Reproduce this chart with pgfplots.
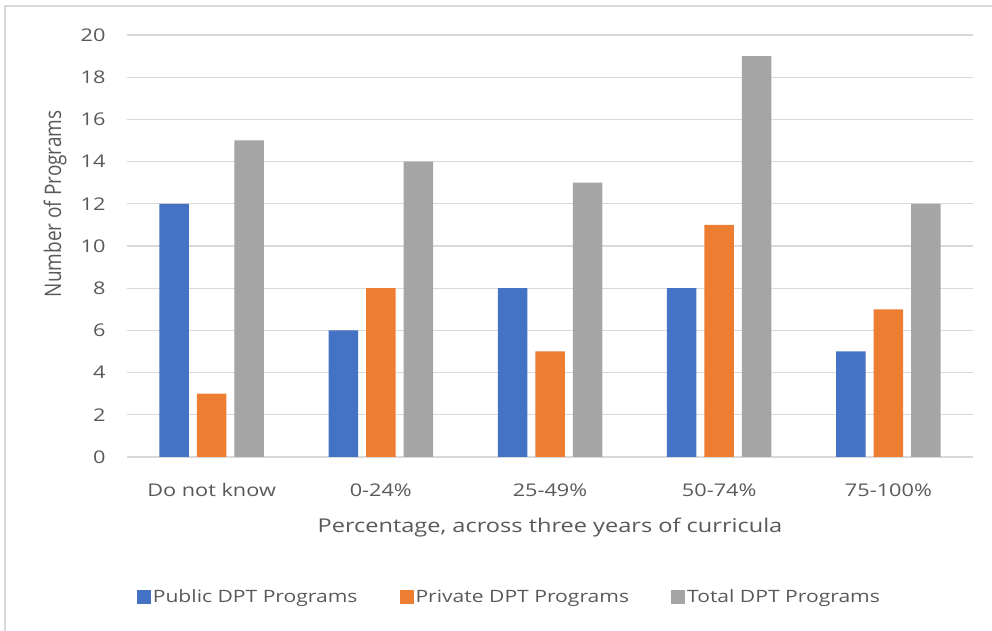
\documentclass[border=0pt]{standalone}
\usepackage{pgfplots}
\pgfplotsset{compat=1.18}
\usepackage{fontspec}
\setmainfont[FakeStretch=1.24]{Open Sans}
\newfontfamily\plainfont{Open Sans}
\definecolor{cblue}{HTML}{4472C4}
\definecolor{corange}{HTML}{ED7D31}
\definecolor{cgray}{HTML}{A5A5A5}
\definecolor{gridc}{HTML}{D9D9D9}
\definecolor{txt}{HTML}{595959}
\begin{document}
\begin{tikzpicture}[x=1pt,y=1pt]
\useasboundingbox (0,0) rectangle (992,631);
\draw[gridc, line width=1.5pt] (5,0) -- (5,625) -- (992,625);
\begin{axis}[
  at={(127pt,174pt)}, anchor=south west,
  scale only axis, width=846pt, height=422pt,
  xmin=-0.5, xmax=4.5, ymin=0, ymax=20,
  ytick={0,2,...,20},
  xtick={0,1,2,3,4},
  xticklabels={Do not know,0-24\%,25-49\%,50-74\%,75-100\%},
  major tick length=0pt,
  axis line style={draw=none},
  ymajorgrids, grid style={gridc, line width=1.3pt},
  /pgf/number format/assume math mode=true,
  tick label style={font=\fontsize{17.5}{20}\selectfont, text=txt},
  yticklabel style={xshift=-18pt},
  xticklabel style={yshift=-23pt},
  xlabel={Percentage, across three years of curricula},
  ylabel={Number of Programs},
  label style={text=txt},
  xlabel style={font=\fontsize{19}{22}\selectfont, at={(axis description cs:0.5,-0.168)}, anchor=center},
  ylabel style={font=\plainfont\fontsize{19}{22}\selectfont, at={(axis description cs:-0.085,0.6)}, anchor=center, yscale=1.2},
  ybar=8pt, bar width=29.5pt,
  legend columns=3,
  legend style={draw=none, fill=none, at={(0.452,-0.332)}, anchor=center,
    font=\fontsize{17}{20}\selectfont, text=txt,
    /tikz/every even column/.append style={column sep=40pt}},
  legend image code/.code={\fill[#1] (0pt,-7pt) rectangle (14pt,7pt);},
]
\addplot[fill=cblue, draw=none] coordinates {(0,12) (1,6) (2,8) (3,8) (4,5)};
\addplot[fill=corange, draw=none] coordinates {(0,3) (1,8) (2,5) (3,11) (4,7)};
\addplot[fill=cgray, draw=none] coordinates {(0,15) (1,14) (2,13) (3,19) (4,12)};
\legend{Public DPT Programs, Private DPT Programs, Total DPT Programs}
\end{axis}
\end{tikzpicture}
\end{document}
